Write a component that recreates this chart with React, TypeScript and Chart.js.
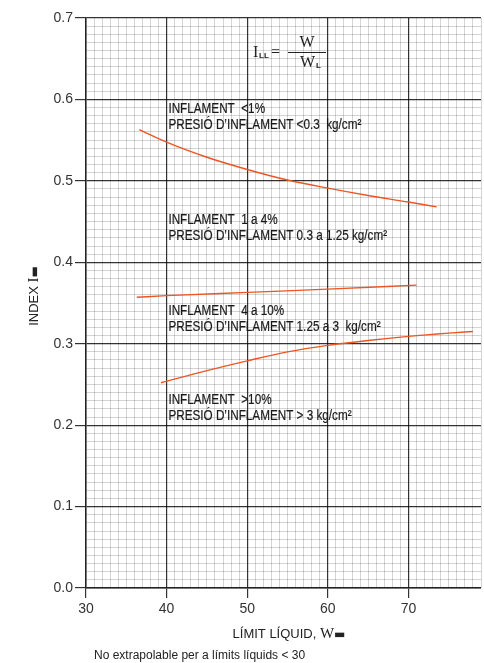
import React, { useEffect, useRef } from 'react';
import { Chart, registerables } from 'chart.js';

Chart.register(...registerables);

// ---- data ----
const topX = [36.6, 40, 45, 50, 55, 60, 65, 70, 73.5];
const topY = [0.563, 0.5475, 0.529, 0.514, 0.501, 0.491, 0.482, 0.474, 0.468];

const midX = [36.3, 40, 50, 60, 71];
const midY = [0.357, 0.359, 0.363, 0.367, 0.372];

const botX = [39.3, 45, 50, 55, 60, 65, 70, 75, 78];
const botY = [0.252, 0.267, 0.279, 0.29, 0.298, 0.304, 0.309, 0.313, 0.315];

const xTickLabels = [30, 40, 50, 60, 70];
const yTickLabels = [0.0, 0.1, 0.2, 0.3, 0.4, 0.5, 0.6, 0.7];

const bandLine1 = ['INFLAMENT  <1%', 'INFLAMENT  1 a 4%', 'INFLAMENT  4 a 10%', 'INFLAMENT  >10%'];
const bandLine2 = [
  'PRESIÓ D’INFLAMENT <0.3  kg/cm²',
  'PRESIÓ D’INFLAMENT 0.3 a 1.25 kg/cm²',
  'PRESIÓ D’INFLAMENT 1.25 a 3  kg/cm²',
  'PRESIÓ D’INFLAMENT > 3 kg/cm²',
];

const yAxisTitle = ['INDEX ', 'I', '▬'];
const xAxisTitle = ['LÍMIT LÍQUID, ', 'W', '▬'];
const footerText = 'No extrapolable per a límits líquids < 30';
const formulaParts = { lhs: 'I', lhsSub: 'LL', eq: '=', num: 'W', den: 'W', denSub: 'L' };

const X_MIN = 30;
const X_MAX = 79;
const Y_MIN = 0;
const Y_MAX = 0.7;

const toPoints = (xs: number[], ys: number[]) => xs.map((x, i) => ({ x, y: ys[i] }));

const SANS = '"Liberation Sans", Arial, sans-serif';
const SERIF = '"Liberation Serif", "Times New Roman", serif';

const overlayPlugin = {
  id: 'overlay',
  afterDraw(chart: any) {
    const ctx = chart.ctx as CanvasRenderingContext2D;
    const xs = chart.scales.x;
    const ys = chart.scales.y;
    ctx.save();
    ctx.fillStyle = '#222';
    ctx.textBaseline = 'alphabetic';
    ctx.textAlign = 'left';

    // band labels (condensed horizontally to match the narrow face of the original)
    const labelXVal = 40.22;
    const labelYVals = [0.583, 0.447, 0.3353, 0.226];
    ctx.font = '14px ' + SANS;
    const sx = 193 / ctx.measureText(bandLine2[0]).width;
    bandLine1.forEach((t, i) => {
      const x = xs.getPixelForValue(labelXVal);
      const y = ys.getPixelForValue(labelYVals[i]);
      ctx.save();
      ctx.translate(x, y);
      ctx.scale(sx, 1);
      ctx.fillStyle = '#1a1a1a';
      ctx.strokeStyle = '#1a1a1a';
      ctx.lineWidth = 0.2;
      ctx.fillText(t, 0, 0);
      ctx.strokeText(t, 0, 0);
      ctx.fillText(bandLine2[i], 0, 16);
      ctx.strokeText(bandLine2[i], 0, 16);
      ctx.restore();
    });

    // formula
    ctx.fillStyle = '#222';
    ctx.font = '16px ' + SERIF;
    ctx.fillText(formulaParts.lhs, 253, 57);
    ctx.font = 'bold 8px ' + SANS;
    ctx.fillText(formulaParts.lhsSub, 259, 58);
    ctx.font = '16px ' + SERIF;
    ctx.fillText(formulaParts.eq, 271, 57);
    ctx.textAlign = 'center';
    ctx.fillText(formulaParts.num, 307, 47);
    ctx.textAlign = 'left';
    ctx.fillText(formulaParts.den, 300, 67);
    ctx.font = 'bold 8px ' + SANS;
    ctx.fillText(formulaParts.denSub, 316, 68);
    ctx.strokeStyle = '#222';
    ctx.lineWidth = 1;
    ctx.beginPath();
    ctx.moveTo(288, 52.5);
    ctx.lineTo(326, 52.5);
    ctx.stroke();

    // axis titles drawn in pieces (mixed fonts)
    const fonts = ['13px ' + SANS, '15px ' + SERIF, '12px "DejaVu Sans", sans-serif'];
    const drawPieces = (parts: string[], cx: number, baseline: number) => {
      const widths = parts.map((p, i) => {
        ctx.font = fonts[i];
        return ctx.measureText(p).width;
      });
      const total = widths.reduce((a, b) => a + b, 0);
      let x = cx - total / 2;
      parts.forEach((p, i) => {
        ctx.font = fonts[i];
        ctx.fillText(p, x, baseline);
        x += widths[i];
      });
    };
    drawPieces(xAxisTitle, 289, 638);

    ctx.save();
    ctx.translate(38, 296);
    ctx.rotate(-Math.PI / 2);
    drawPieces(yAxisTitle, 0, 0);
    ctx.restore();

    // footer
    ctx.font = '12px ' + SANS;
    ctx.fillStyle = '#222';
    ctx.textAlign = 'left';
    ctx.fillText(footerText, 94, 659);
    ctx.restore();
  },
};

const isMajorX = (v: number) => Math.round(v) % 10 === 0;
const isMajorY = (v: number) => Math.round(v * 100) % 10 === 0;
const MINOR = 'rgba(0,0,0,0.17)';
const MAJOR = 'rgba(0,0,0,0.8)';

export default function App() {
  const ref = useRef<HTMLCanvasElement | null>(null);

  useEffect(() => {
    if (!ref.current) return;
    const lineStyle = {
      borderColor: '#ee5524',
      borderWidth: 1.4,
      pointRadius: 0,
      fill: false,
      cubicInterpolationMode: 'monotone' as const,
    };
    const chart = new Chart(ref.current, {
      type: 'line',
      data: {
        datasets: [
          { ...lineStyle, label: 'top', data: toPoints(topX, topY) },
          { ...lineStyle, label: 'mid', data: toPoints(midX, midY) },
          { ...lineStyle, label: 'bot', data: toPoints(botX, botY) },
        ],
      },
      options: {
        animation: false,
        responsive: false,
        devicePixelRatio: 1,
        layout: { padding: { top: 18, right: 0, bottom: 0, left: 0 } },
        plugins: { legend: { display: false }, tooltip: { enabled: false }, title: { display: false } },
        scales: {
          x: {
            type: 'linear',
            min: X_MIN,
            max: X_MAX,
            afterFit: (s: any) => { s.height = 75; },
            ticks: {
              stepSize: 1,
              autoSkip: false,
              maxRotation: 0,
              padding: 3,
              color: '#333',
              font: { family: SANS, size: 14 },
              callback: (v: any) => (xTickLabels.includes(Math.round(Number(v))) && isMajorX(Number(v)) ? String(Math.round(Number(v))) : ''),
            },
            grid: {
              color: (c: any) => (isMajorX(c.tick.value) ? MAJOR : MINOR),
              lineWidth: (c: any) => (isMajorX(c.tick.value) ? 1.2 : 1),
              tickColor: (c: any) => (isMajorX(c.tick.value) ? '#333' : 'rgba(0,0,0,0)'),
              tickLength: 10,
            },
            border: { color: '#222', width: 1.5 },
          },
          y: {
            type: 'linear',
            min: Y_MIN,
            max: Y_MAX,
            afterFit: (s: any) => { s.width = 86; },
            ticks: {
              stepSize: 0.01,
              autoSkip: false,
              padding: 2,
              color: '#333',
              font: { family: SANS, size: 14 },
              callback: (v: any) => {
                const n = Number(v);
                if (!isMajorY(n)) return '';
                const r = Math.round(n * 10) / 10;
                return yTickLabels.includes(r) ? r.toFixed(1) : '';
              },
            },
            grid: {
              color: (c: any) => (isMajorY(c.tick.value) ? MAJOR : MINOR),
              lineWidth: (c: any) => (isMajorY(c.tick.value) ? 1.2 : 1),
              tickColor: (c: any) => (isMajorY(c.tick.value) ? '#333' : 'rgba(0,0,0,0)'),
              tickLength: 11,
            },
            border: { color: '#222', width: 1.5 },
          },
        },
      },
      plugins: [overlayPlugin],
    });
    return () => chart.destroy();
  }, []);

  return (
    <div style={{ position: 'fixed', left: 0, top: 0, width: 484, height: 663, background: '#fff' }}>
      <canvas ref={ref} width={484} height={663} style={{ display: 'block' }} />
    </div>
  );
}
